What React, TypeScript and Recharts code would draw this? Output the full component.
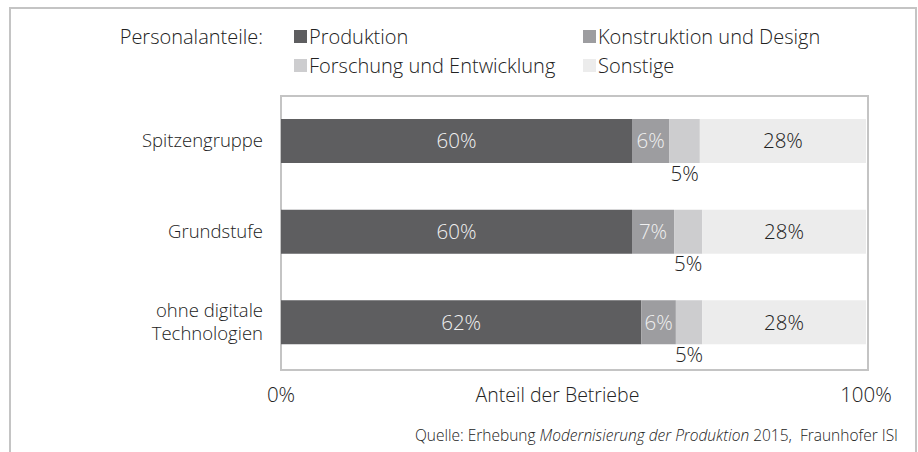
import React from "react";
import { BarChart, Bar, XAxis, YAxis, LabelList } from "recharts";

const categories = ["Spitzengruppe", "Grundstufe", "ohne digitale\nTechnologien"];
const produktion = [60.0, 60.0, 61.6];
const konstruktion = [6.4, 7.2, 5.9];
const forschung = [5.2, 4.8, 4.5];
const sonstige = [28.4, 28.0, 28.0];
const xTicks = [0, 100];

const series = [
  { key: "produktion", name: "Produktion", color: "#5e5e60", text: "#f0f0f0", pos: "center" },
  { key: "konstruktion", name: "Konstruktion und Design", color: "#9d9da0", text: "#f0f0f0", pos: "center" },
  { key: "forschung", name: "Forschung und Entwicklung", color: "#cdcdcf", text: "#222222", pos: "bottom" },
  { key: "sonstige", name: "Sonstige", color: "#ececec", text: "#222222", pos: "center" },
];

const data = categories.map((c, i) => ({
  name: c,
  produktion: produktion[i],
  konstruktion: konstruktion[i],
  forschung: forschung[i],
  sonstige: sonstige[i],
}));

const FONT = "'Open Sans', 'Noto Sans', sans-serif";
const TXT = "#222222";

const CategoryTick = (props: any) => {
  const { x, y, payload } = props;
  const lines = String(payload.value).split("\n");
  const lh = 23;
  const start = -((lines.length - 1) * lh) / 2;
  return (
    <text x={x} y={y} textAnchor="end" fill={TXT} fontSize={18.5} fontFamily={FONT} fontWeight={300}>
      {lines.map((l, i) => (
        <tspan key={i} x={x} dy={i === 0 ? start + 6 : lh}>{l}</tspan>
      ))}
    </text>
  );
};

export default function App() {
  return (
    <div style={{ position: "fixed", left: 0, top: 0, width: 918, height: 452, background: "#fff", fontFamily: FONT, color: TXT, overflow: "hidden" }}>
      {/* outer frame, open at the bottom */}
      <div style={{ position: "absolute", left: 9, top: 7, width: 904, height: 460, border: "2px solid #c4c4c4" }} />
      {/* plot box */}
      <div style={{ position: "absolute", left: 280, top: 95, width: 585, height: 272, border: "2px solid #c4c4c4" }} />

      {/* legend */}
      <div style={{ position: "absolute", left: 0, width: 263, top: 23, textAlign: "right", fontSize: 20, fontWeight: 300 }}>Personalanteile:</div>
      {series.map((s, i) => (
        <div key={s.key} style={{ position: "absolute", left: i % 2 === 0 ? 294 : 583, top: i < 2 ? 23 : 52, display: "flex", alignItems: "center", fontSize: 20, fontWeight: 300, whiteSpace: "nowrap" }}>
          <span style={{ display: "inline-block", width: 13, height: 13, background: s.color, marginRight: 2 }} />
          {s.name}
        </div>
      ))}

      <div style={{ position: "absolute", left: 0, top: 0 }}>
        <BarChart width={918} height={452} data={data} layout="vertical" margin={{ top: 96, right: 52, left: 81, bottom: 54 }} barSize={44}>
          <XAxis type="number" domain={[0, 100]} ticks={xTicks} axisLine={false} tickLine={false} tickSize={0} tickMargin={19}
            tickFormatter={(v: number) => `${v}%`} tick={{ fill: TXT, fontSize: 20.5, fontFamily: FONT, fontWeight: 300 }}
            height={30}
            label={{ value: "Anteil der Betriebe", position: "bottom", offset: -10, dx: -16, fill: TXT, fontSize: 19.5, fontFamily: FONT, fontWeight: 300 }} />
          <YAxis type="category" dataKey="name" width={200} axisLine={false} tickLine={false} tickSize={0} tickMargin={18} tick={<CategoryTick />} />
          {series.map((s) => (
            <Bar key={s.key} dataKey={s.key} stackId="a" fill={s.color} isAnimationActive={false}>
              <LabelList dataKey={s.key} position={s.pos as any} offset={3}
                formatter={(v: any) => `${Math.round(Number(v))}%`}
                style={{ fill: s.text, fontSize: 20.5, fontFamily: FONT, fontWeight: 300 }} />
            </Bar>
          ))}
        </BarChart>
      </div>

      {/* source */}
      <div style={{ position: "absolute", right: 20, top: 424, fontSize: 15.5, fontWeight: 300, whiteSpace: "nowrap" }}>
        Quelle: Erhebung <i>Modernisierung der Produktion</i> 2015,&nbsp; Fraunhofer ISI
      </div>
    </div>
  );
}
